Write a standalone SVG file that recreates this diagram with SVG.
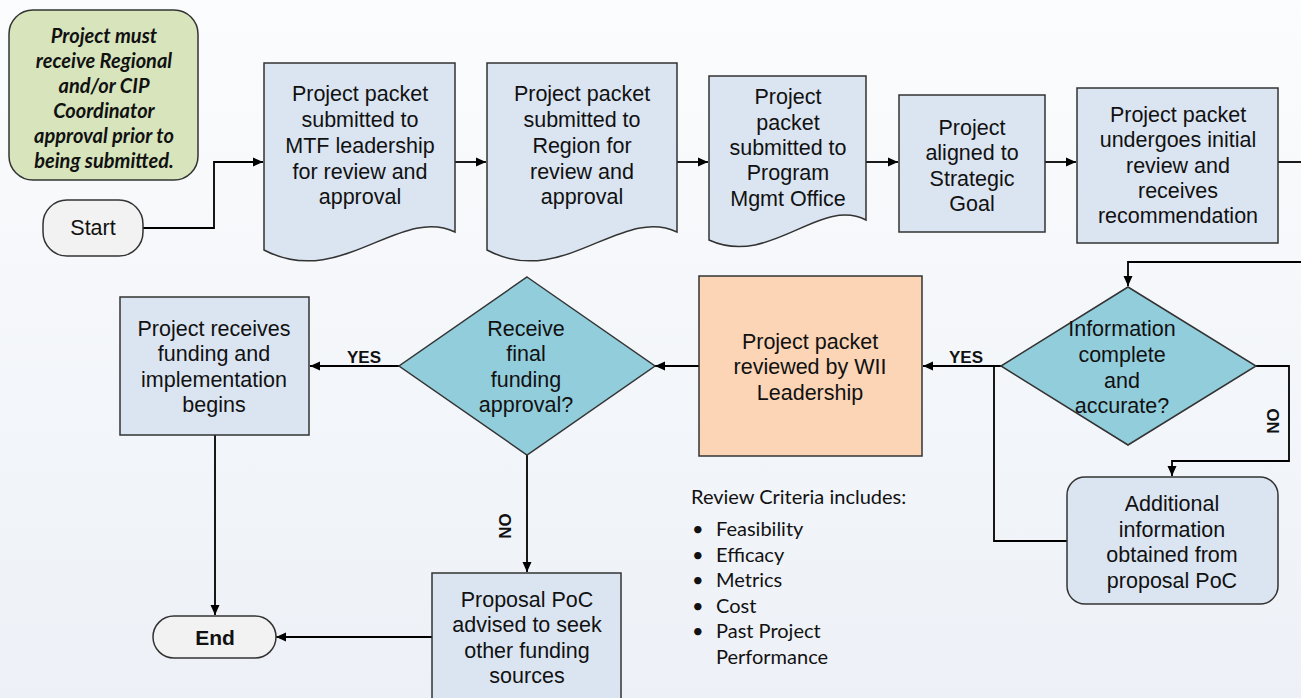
<svg xmlns="http://www.w3.org/2000/svg" width="1301" height="698" viewBox="0 0 1301 698">
<defs>
<linearGradient id="bg" x1="0" y1="0" x2="0" y2="1">
<stop offset="0" stop-color="#fbfcfd"/>
<stop offset="1" stop-color="#edf1f7"/>
</linearGradient>
<marker id="ah" markerWidth="10" markerHeight="10" refX="10" refY="5" orient="auto" markerUnits="userSpaceOnUse">
<path d="M0,0.5 L10,5 L0,9.5 Z" fill="#000"/>
</marker>
<style>
.sh{stroke:#333;stroke-width:1.5}
.doc{fill:#dbe5f1}
.dia{fill:#92cddc}
.org{fill:#fbd5b5}
.term{fill:#f2f2f2}
.note{fill:#d7e4bc}
.t{font-family:"Liberation Sans",Arial,sans-serif;font-size:21.5px;fill:#111;text-anchor:middle}
.tb{font-family:"Liberation Sans",Arial,sans-serif;font-weight:bold;fill:#111;text-anchor:middle}
.nt{font-family:Lato,"Open Sans",sans-serif;font-weight:bold;font-style:italic;font-size:20px;fill:#111;text-anchor:middle}
.rc{font-family:Lato,"Open Sans",sans-serif;font-size:20px;fill:#111}
.c{fill:none;stroke:#000;stroke-width:1.8}
.ca{fill:none;stroke:#000;stroke-width:1.8;marker-end:url(#ah)}
</style>
</defs>
<rect x="0" y="0" width="1301" height="698" fill="url(#bg)"/>

<g id="connectors">
<path class="ca" d="M143,228 H214 V162 H263"/>
<path class="ca" d="M455,162 H486"/>
<path class="ca" d="M677,162 H708"/>
<path class="ca" d="M866,162 H898"/>
<path class="ca" d="M1045,162 H1076"/>
<path class="c" d="M1278,162 H1301"/>
<path class="ca" d="M1301,262 H1128 V286"/>
<path class="ca" d="M1256,366 H1289 V461 H1172 V476"/>
<path class="c" d="M1067,541 H994 V366"/>
<path class="ca" d="M1001,366 H923"/>
<path class="ca" d="M699,366 H655"/>
<path class="ca" d="M399,366 H310"/>
<path class="ca" d="M215,435 V615"/>
<path class="ca" d="M527,455 V572"/>
<path class="ca" d="M432,637 H276"/>
<text class="tb" x="966" y="363" font-size="17">YES</text>
<text class="tb" x="364" y="363" font-size="17">YES</text>
<text class="tb" font-size="17" transform="translate(1279,421) rotate(-90)">NO</text>
<text class="tb" font-size="17" transform="translate(511,526) rotate(-90)">NO</text>
</g>

<g id="note">
<rect class="note sh" x="9" y="10" width="189" height="170" rx="24"/>
<text class="nt" x="104" y="43">Project must</text>
<text class="nt" x="104" y="68">receive Regional</text>
<text class="nt" x="104" y="93">and/or CIP</text>
<text class="nt" x="104" y="118">Coordinator</text>
<text class="nt" x="104" y="143">approval prior to</text>
<text class="nt" x="104" y="168">being submitted.</text>
</g>

<g id="start">
<rect class="term sh" x="43" y="200" width="100" height="56" rx="24"/>
<text class="t" x="93" y="235" font-size="20">Start</text>
</g>

<g id="doc1">
<path class="doc sh" d="M264,63 H455 V232 C400,205 340,290 264,250 Z"/>
<text class="t" x="360" y="101">Project packet</text>
<text class="t" x="360" y="127">submitted to</text>
<text class="t" x="360" y="153">MTF leadership</text>
<text class="t" x="360" y="179">for review and</text>
<text class="t" x="360" y="204">approval</text>
</g>

<g id="doc2">
<path class="doc sh" d="M487,63 H677 V232 C622,205 562,290 487,250 Z"/>
<text class="t" x="582" y="101">Project packet</text>
<text class="t" x="582" y="127">submitted to</text>
<text class="t" x="582" y="153">Region for</text>
<text class="t" x="582" y="179">review and</text>
<text class="t" x="582" y="204">approval</text>
</g>

<g id="doc3">
<path class="doc sh" d="M709,76 H866 V220 C820,196 770,268 709,240 Z"/>
<text class="t" x="788" y="104">Project</text>
<text class="t" x="788" y="130">packet</text>
<text class="t" x="788" y="155">submitted to</text>
<text class="t" x="788" y="180">Program</text>
<text class="t" x="788" y="206">Mgmt Office</text>
</g>

<g id="aligned">
<rect class="doc sh" x="899" y="95" width="146" height="137"/>
<text class="t" x="972" y="135">Project</text>
<text class="t" x="972" y="160">aligned to</text>
<text class="t" x="972" y="186">Strategic</text>
<text class="t" x="972" y="211">Goal</text>
</g>

<g id="initial">
<rect class="doc sh" x="1077" y="88" width="201" height="155"/>
<text class="t" x="1178" y="122">Project packet</text>
<text class="t" x="1178" y="147">undergoes initial</text>
<text class="t" x="1178" y="173">review and</text>
<text class="t" x="1178" y="198">receives</text>
<text class="t" x="1178" y="223">recommendation</text>
</g>

<g id="info">
<path class="dia sh" d="M1128,287 L1256,366 L1128,445 L1001,366 Z"/>
<text class="t" x="1122" y="336">Information</text>
<text class="t" x="1122" y="362">complete</text>
<text class="t" x="1122" y="388">and</text>
<text class="t" x="1122" y="413">accurate?</text>
</g>

<g id="additional">
<rect class="doc sh" x="1067" y="477" width="211" height="127" rx="18"/>
<text class="t" x="1172" y="511">Additional</text>
<text class="t" x="1172" y="537">information</text>
<text class="t" x="1172" y="562">obtained from</text>
<text class="t" x="1172" y="588">proposal PoC</text>
</g>

<g id="wii">
<rect class="org sh" x="699" y="276" width="223" height="180"/>
<text class="t" x="810" y="349">Project packet</text>
<text class="t" x="810" y="374">reviewed by WII</text>
<text class="t" x="810" y="400">Leadership</text>
</g>

<g id="final">
<path class="dia sh" d="M527,277 L655,366 L527,455 L399,366 Z"/>
<text class="t" x="526" y="336">Receive</text>
<text class="t" x="526" y="361">final</text>
<text class="t" x="526" y="387">funding</text>
<text class="t" x="526" y="412">approval?</text>
</g>

<g id="funded">
<rect class="doc sh" x="120" y="297" width="189" height="138"/>
<text class="t" x="214" y="336">Project receives</text>
<text class="t" x="214" y="361">funding and</text>
<text class="t" x="214" y="387">implementation</text>
<text class="t" x="214" y="412">begins</text>
</g>

<g id="end">
<rect class="term sh" x="153" y="616" width="123" height="42" rx="21"/>
<text class="tb" x="215" y="645" font-size="21">End</text>
</g>

<g id="seek">
<rect class="doc sh" x="432" y="573" width="189" height="130"/>
<text class="t" x="527" y="607">Proposal PoC</text>
<text class="t" x="527" y="632">advised to seek</text>
<text class="t" x="527" y="658">other funding</text>
<text class="t" x="527" y="683">sources</text>
</g>

<g id="criteria">
<text class="rc" x="691" y="504" font-size="17">Review Criteria includes:</text>
<g class="rc" font-size="18">
<text x="692" y="536">•</text><text x="716" y="536">Feasibility</text>
<text x="692" y="562">•</text><text x="716" y="562">Efficacy</text>
<text x="692" y="587">•</text><text x="716" y="587">Metrics</text>
<text x="692" y="613">•</text><text x="716" y="613">Cost</text>
<text x="692" y="638">•</text><text x="716" y="638">Past Project</text>
<text x="716" y="664">Performance</text>
</g>
</g>
</svg>
